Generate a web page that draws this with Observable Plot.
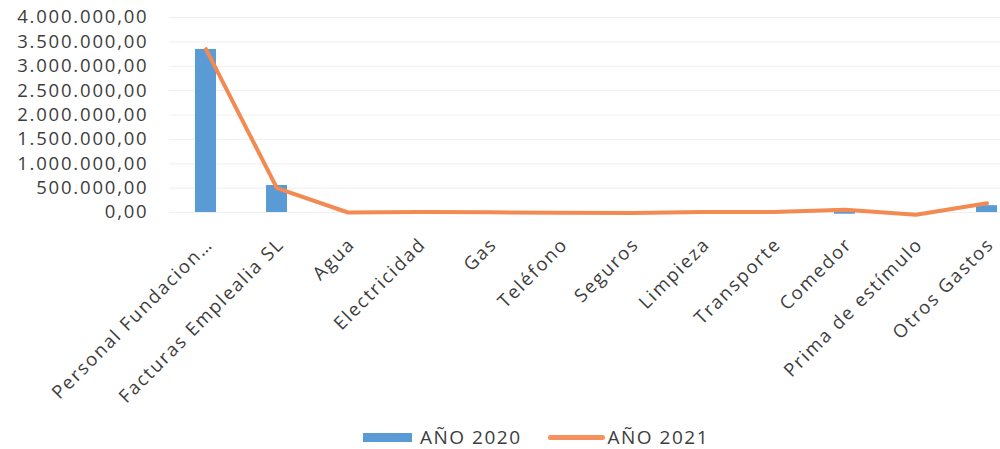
<!DOCTYPE html>
<html>
<head>
<meta charset="utf-8">
<script src="https://cdn.jsdelivr.net/npm/d3@7"></script>
<script src="https://cdn.jsdelivr.net/npm/@observablehq/plot@0.6"></script>
<style>
  html, body { margin: 0; padding: 0; background: #fff; }
  #wrap { position: relative; width: 1000px; height: 449px; overflow: hidden; font-family: "Open Sans", sans-serif; }
  #legend { position: absolute; left: 363px; top: 426px; height: 22px; line-height: 22px; display: flex; align-items: center; font-size: 19px; letter-spacing: 1.5px; color: #3d3d3d; }
  .sw-bar { width: 49px; height: 9px; background: #5b9bd5; margin-right: 8px; }
  .sw-line { width: 57px; height: 5px; border-radius: 3px; background: #f4915e; margin-left: 26px; margin-right: 3px; }
</style>
</head>
<body>
<div id="wrap">
  <div id="chart"></div>
  <div id="legend">
    <div class="sw-bar"></div><span id="lab2020"></span>
    <div class="sw-line"></div><span id="lab2021"></span>
  </div>
</div>
<script>
const categories = ["Personal Fundacion…", "Facturas Emplealia SL", "Agua", "Electricidad", "Gas", "Teléfono", "Seguros", "Limpieza", "Transporte", "Comedor", "Prima de estímulo", "Otros Gastos"];
const values2020 = [3345000, 554000, 4000, 12000, 4000, 3000, 4000, 8000, 10000, -35000, 0, 140000];
const values2021 = [3350000, 498000, 0, 10000, 5000, -5000, -8000, 8000, 12000, 55000, -47000, 190000];
const seriesNames = ["AÑO 2020", "AÑO 2021"];
const yTicks = [0, 500000, 1000000, 1500000, 2000000, 2500000, 3000000, 3500000, 4000000];

document.getElementById("lab2020").textContent = seriesNames[0];
document.getElementById("lab2021").textContent = seriesNames[1];

const es = d3.formatLocale({decimal: ",", thousands: ".", grouping: [3], currency: ["", " €"]});
const fmt = es.format(",.2f");

const rows = categories.map((c, i) => ({cat: c, v2020: values2020[i], v2021: values2021[i]}));

const chart = Plot.plot({
  width: 1000,
  height: 420,
  marginTop: 17,
  marginBottom: 208,
  marginLeft: 169,
  marginRight: 0,
  style: {fontFamily: "Open Sans, sans-serif", fontSize: "18.5px", color: "#3d3d3d", letterSpacing: "1.8px", background: "#fff", overflow: "hidden"},
  x: {domain: categories, range: [169.4, 1023.8], paddingInner: 0.7, paddingOuter: 0.35, axis: null},
  y: {domain: [0, 4000000], range: [212, 17], axis: null},
  marks: [
    Plot.ruleY(yTicks, {stroke: "#efefef", strokeWidth: 1}),
    Plot.axisY({ticks: yTicks, tickFormat: fmt, tickSize: 0, tickPadding: 21, fontSize: 18.5, fill: "#3d3d3d"}),
    Plot.barY(rows, {x: "cat", y: "v2020", fill: "#5b9bd5"}),
    Plot.line(rows, {x: "cat", y: "v2021", stroke: "#f28a52", strokeWidth: 4, curve: "linear", strokeLinejoin: "round", strokeLinecap: "round"}),
    Plot.text(categories, {x: d => d, frameAnchor: "bottom", rotate: -45, textAnchor: "end", dx: 8, dy: 33, fill: "#3d3d3d", fontSize: 18.5})
  ]
});
document.getElementById("chart").appendChild(chart);
</script>
</body>
</html>
